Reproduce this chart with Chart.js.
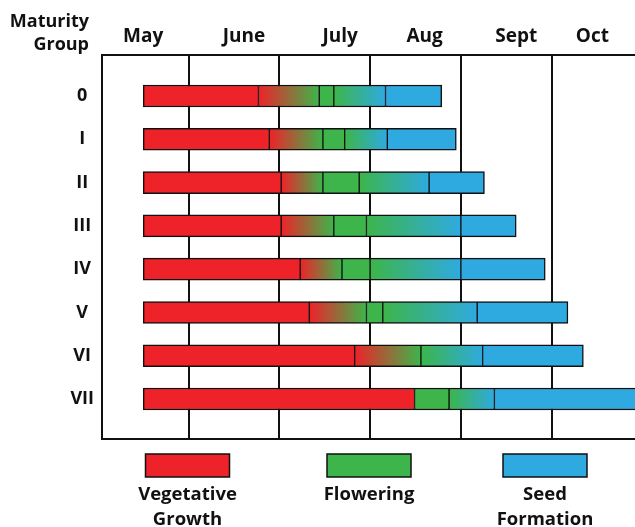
<!DOCTYPE html>
<html lang="en">
<head>
<meta charset="UTF-8">
<title>Soybean maturity groups</title>
<script src="https://cdn.jsdelivr.net/npm/chart.js"></script>
<style>
    body { margin: 0; background: #fff; }
    #wrap { width: 635px; height: 527px; }
</style>
</head>
<body>
<div id="wrap"><canvas id="chart"></canvas></div>
<script>
    // values are months counted from May 1 (1 = June 1, 2 = July 1 ...)
    const groups = ['0', 'I', 'II', 'III', 'IV', 'V', 'VI', 'VII'];
    const months = ['May', 'June', 'July', 'Aug', 'Sept', 'Oct'];
    const monthLabelAt = [0.5, 1.61, 2.67, 3.6, 4.61, 5.45];
    const monthStarts = [1, 2, 3, 4, 5];

    const planting    = [0.5, 0.5, 0.5, 0.5, 0.5, 0.5, 0.5, 0.5];
    const vegEnd      = [1.77, 1.89, 2.02, 2.02, 2.23, 2.33, 2.83, 3.49];
    const flowerStart = [2.44, 2.48, 2.48, 2.60, 2.69, 2.96, 3.56, 3.49];
    const flowerEnd   = [2.60, 2.72, 2.88, 2.96, 3.00, 3.14, 3.56, 3.87];
    const seedStart   = [3.17, 3.19, 3.65, 4.00, 4.00, 4.18, 4.24, 4.37];
    const seedEnd     = [3.79, 3.95, 4.26, 4.61, 4.93, 5.18, 5.35, 6.00];

    const legendLabels = [['Vegetative', 'Growth'], ['Flowering'], ['Seed', 'Formation']];

    const RED = '#ee2229', GREEN = '#3db54a', BLUE = '#2eaae1';
    const FONT = '"Open Sans", sans-serif';

    const span = (from, to) => groups.map((g, i) => ({ x: [from[i], to[i]], y: i }));

    // horizontal gradient across one bar piece
    const fade = (c0, c1) => (ctx) => {
        const chart = ctx.chart;
        if (!chart.chartArea || !ctx.raw) return c0;
        const sx = chart.scales.x;
        const x0 = sx.getPixelForValue(ctx.raw.x[0]);
        const x1 = sx.getPixelForValue(ctx.raw.x[1]);
        if (x1 - x0 < 1) return c1;
        const g = chart.ctx.createLinearGradient(x0, 0, x1, 0);
        g.addColorStop(0, c0);
        g.addColorStop(1, c1);
        return g;
    };

    const piece = (label, data, color, left, right) => ({
        label: label,
        data: data,
        backgroundColor: color,
        borderColor: '#111',
        borderWidth: { top: 1.5, bottom: 1.5, left: left, right: right },
        borderSkipped: false,
        barThickness: 22
    });

    const extraText = {
        id: 'extraText',
        afterDraw(chart) {
            const a = chart.chartArea, c = chart.ctx;
            c.save();
            // top edge of the frame
            c.fillStyle = '#111';
            c.fillRect(a.left - 1, a.top - 1, a.right - a.left + 1, 2);

            c.font = 'bold 18px ' + FONT;
            c.textAlign = 'right';
            c.textBaseline = 'alphabetic';
            c.fillText('Maturity', 89, 27);
            c.fillText('Group', 89, 50);

            const colors = [RED, GREEN, BLUE];
            const centers = [187.5, 369, 545];
            c.textAlign = 'center';
            c.font = 'bold 18.5px ' + FONT;
            legendLabels.forEach((lines, k) => {
                c.fillStyle = colors[k];
                c.fillRect(centers[k] - 42, 454, 84, 23);
                c.strokeStyle = '#111';
                c.lineWidth = 1.5;
                c.strokeRect(centers[k] - 42, 454, 84, 23);
                c.fillStyle = '#111';
                lines.forEach((t, j) => c.fillText(t, centers[k], 500 + j * 25));
            });
            c.restore();
        }
    };

    new Chart(document.getElementById('chart'), {
        type: 'bar',
        data: {
            datasets: [
                piece('Vegetative Growth', span(planting, vegEnd), RED, 1.5, 1),
                piece('veg to flower', span(vegEnd, flowerStart), fade(RED, GREEN), 1, 1),
                piece('Flowering', span(flowerStart, flowerEnd), GREEN, 1, 1),
                piece('flower to seed', span(flowerEnd, seedStart), fade(GREEN, BLUE), 1, 1),
                piece('Seed Formation', span(seedStart, seedEnd), BLUE, 1, 1.5)
            ]
        },
        options: {
            indexAxis: 'y',
            responsive: true,
            maintainAspectRatio: false,
            animation: false,
            layout: { padding: 0 },
            plugins: { legend: { display: false }, tooltip: { enabled: false } },
            scales: {
                x: {
                    type: 'linear',
                    position: 'bottom',
                    min: 0.046,
                    max: 5.919,
                    stacked: false,
                    afterBuildTicks: s => { s.ticks = monthStarts.map(v => ({ value: v })); },
                    afterFit: s => { s.height = 88; },
                    ticks: { display: false },
                    grid: { color: '#111', lineWidth: 2, drawTicks: false },
                    border: { display: true, color: '#111', width: 2 }
                },
                x2: {
                    type: 'linear',
                    position: 'top',
                    min: 0.046,
                    max: 5.919,
                    afterBuildTicks: s => { s.ticks = monthLabelAt.map(v => ({ value: v })); },
                    afterFit: s => { s.height = 55; },
                    ticks: {
                        padding: 7,
                        color: '#111',
                        font: { family: FONT, size: 19, weight: 'bold' },
                        callback: (v, i) => months[i]
                    },
                    grid: { display: false, drawTicks: false },
                    border: { display: true, color: '#111', width: 2 }
                },
                y: {
                    type: 'linear',
                    reverse: true,
                    offset: false,
                    min: -0.947,
                    max: 7.923,
                    stacked: true,
                    afterBuildTicks: s => { s.ticks = groups.map((g, i) => ({ value: i })); },
                    afterFit: s => { s.width = 102; },
                    ticks: {
                        padding: 8,
                        crossAlign: 'center',
                        color: '#111',
                        font: { family: FONT, size: 18, weight: 'bold' },
                        callback: (v) => groups[v]
                    },
                    grid: { display: false, drawTicks: false },
                    border: { display: true, color: '#111', width: 2 }
                }
            }
        },
        plugins: [extraText]
    });
</script>
</body>
</html>
